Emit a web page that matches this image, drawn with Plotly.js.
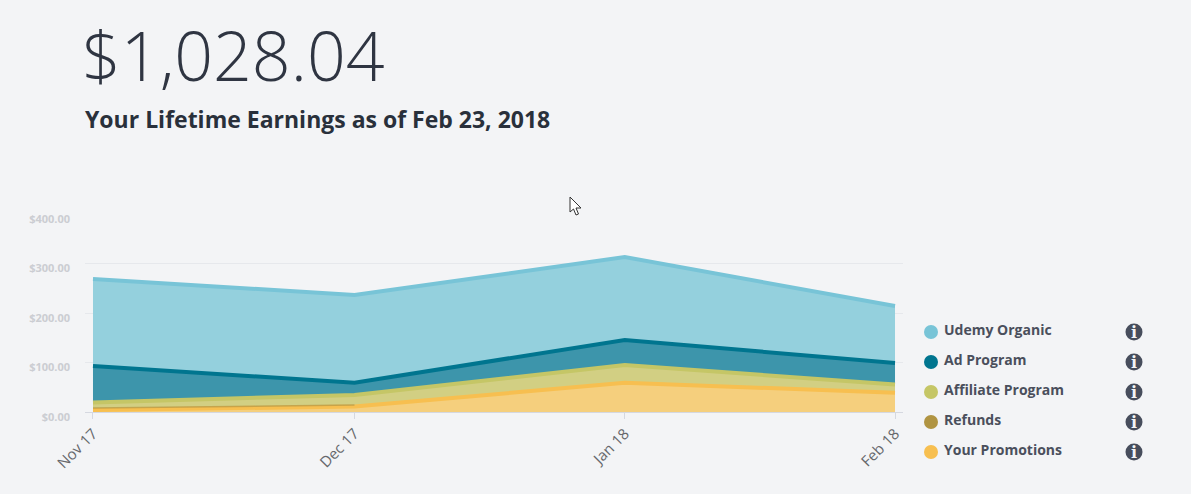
<!DOCTYPE html>
<html>
<head>
<meta charset="utf-8">
<script src="https://cdn.plot.ly/plotly-3.0.1.min.js"></script>
<style>html,body{margin:0;padding:0;background:#f3f4f6;overflow:hidden}#chart{width:1191px;height:494px}</style>
</head>
<body>
<div id="chart"></div>
<script>
const months = ['2017-11-01','2017-12-01','2018-01-01','2018-02-01'];
const monthLabels = ['Nov 17','Dec 17','Jan 18','Feb 18'];
const yTicks = [0,100,200,300,400];
const yLabels = ['$0.00','$100.00','$200.00','$300.00','$400.00'];
const yourPromotions = [4,11,59,39];
const refunds = [8,14,null,null];
const affiliateProgram = [15,23.5,36,16.6];
const adProgram = [74,24.6,50.5,43.4];
const udemyOrganic = [175.7,177.4,167.5,115];
const seriesNames = ['Udemy Organic','Ad Program','Affiliate Program','Refunds','Your Promotions'];
const seriesColors = ['#78c4d7','#00758f','#c5c666','#b09442','#f7bf50'];
const fillColors = ['#94d0dd','#3d95ab','#d2cf83','#c9b172','#f5cf7d'];
const seriesValues = [udemyOrganic,adProgram,affiliateProgram,refunds,yourPromotions];

const L=85,R=903,T=214,B=412;
const px=x=>(x-L)/(R-L), py=y=>(B-y)/(B-T);

const traces=[];
[4,2,1,0].forEach(i=>{
  traces.push({x:months,y:seriesValues[i],name:seriesNames[i],type:'scatter',mode:'lines',
    stackgroup:'one',line:{color:seriesColors[i],width:4},fillcolor:fillColors[i],hoverinfo:'x+y+name'});
});
traces.push({x:months,y:refunds,name:'Refunds',type:'scatter',mode:'lines',opacity:0.65,
  line:{color:seriesColors[3],width:1.5},hoverinfo:'x+y+name'});

const shapes=[],annotations=[];
const rowY=[332,362,392,422,452];
seriesNames.forEach((n,i)=>{
  shapes.push({type:'circle',xref:'paper',yref:'paper',x0:px(924),x1:px(938),y0:py(rowY[i]+7),y1:py(rowY[i]-7),
    fillcolor:seriesColors[i],line:{width:0},layer:'above'});
  shapes.push({type:'circle',xref:'paper',yref:'paper',x0:px(1125.5),x1:px(1142.5),y0:py(rowY[i]+8.5),y1:py(rowY[i]-8.5),
    fillcolor:'#474d5c',line:{width:0},layer:'above'});
  annotations.push({xref:'paper',yref:'paper',x:px(942),y:py(rowY[i]-3),xanchor:'left',yanchor:'middle',showarrow:false,
    text:n,font:{family:'Open Sans',size:14,color:'#4a4f5c',weight:700}});
  annotations.push({xref:'paper',yref:'paper',x:px(1134),y:py(rowY[i]),xanchor:'center',yanchor:'middle',showarrow:false,
    text:'i',font:{family:'DejaVu Serif',size:16,color:'#f3f4f6',weight:700}});
});
annotations.push({xref:'paper',yref:'paper',x:px(83),y:py(119),xanchor:'left',yanchor:'middle',showarrow:false,
  text:'Your Lifetime Earnings as of Feb 23, 2018',font:{family:'Open Sans',size:23,color:'#29303b',weight:700}});
// mouse pointer captured in the screenshot
shapes.push({type:'path',xref:'paper',yref:'paper',layer:'above',
  path:'M '+[[570,197],[570,212],[573.5,209],[576,215],[578.5,214],[576,208],[581,208]].map(p=>px(p[0])+','+py(p[1])).join(' L ')+' Z',
  fillcolor:'#ffffff',line:{color:'#333333',width:1}});

Plotly.newPlot('chart',traces,{
  width:1191,height:494,
  paper_bgcolor:'#f3f4f6',plot_bgcolor:'#f3f4f6',
  margin:{l:L,r:1191-R,t:T,b:494-B,pad:0},
  showlegend:false,
  title:{text:'$1,028.04',xref:'container',x:82/1191,xanchor:'left',yref:'container',y:1-57/494,yanchor:'middle',pad:{l:0,r:0,t:0,b:0},
    font:{family:'Open Sans',size:68,color:'#2f3542',weight:300}},
  xaxis:{type:'date',range:['2017-10-31 02:00','2018-02-01 22:00'],tickmode:'array',tickvals:months,ticktext:monthLabels,
    tickangle:-45,ticks:'outside',ticklen:6,tickcolor:'#d5d8e0',tickwidth:1,showgrid:false,
    showline:true,linecolor:'#d5d8e0',linewidth:1,zeroline:false,
    tickfont:{family:'Open Sans',size:15,color:'#66686c'}},
  yaxis:{range:[0,400],tickmode:'array',tickvals:yTicks,ticktext:yLabels,ticks:'',showline:false,zeroline:false,
    gridcolor:'#e6e8ec',gridwidth:1,ticklabelstandoff:14,ticklabelshift:5,
    tickfont:{family:'Open Sans',size:11,color:'#cbcdd2',weight:700}},
  shapes:shapes,annotations:annotations
},{displayModeBar:false,staticPlot:true});
</script>
</body>
</html>
